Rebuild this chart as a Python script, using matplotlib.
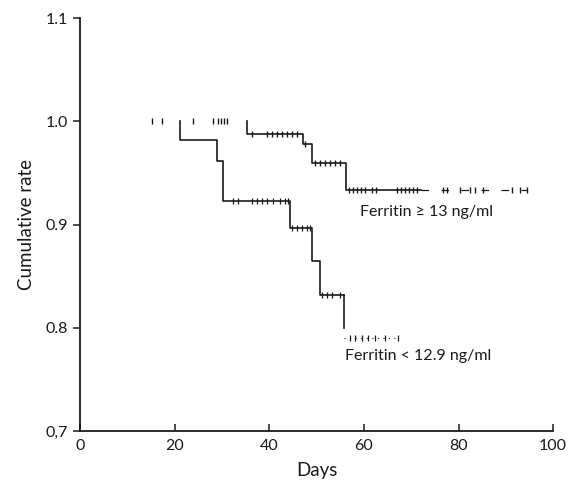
import numpy as np
import matplotlib
matplotlib.use("Agg")
import matplotlib.pyplot as plt

plt.rcParams['font.family'] = ['Lato', 'DejaVu Sans']

# High ferritin group (>= 13 ng/ml): event times and survival after each step
hi_times = [35.3, 47.1, 49.0, 56.2]
hi_surv = [0.988, 0.978, 0.960, 0.934]
hi_end = 94.5
hi_censor = [15.2, 17.3, 23.9, 28.1, 29.2, 29.8, 30.4, 31.1,
             36.4, 39.5, 40.6, 41.6, 42.7, 43.8, 44.8, 45.9,
             47.6,
             49.7, 50.7, 51.8, 52.8, 53.9, 55.0,
             56.9, 57.7, 58.6, 59.4, 60.3, 61.7, 62.6,
             67.0, 67.9, 68.7, 69.6, 70.4, 71.2,
             76.7, 77.6, 80.3, 82.5, 83.5, 85.2, 91.3, 93.0, 94.5]

# Low ferritin group (< 12.9 ng/ml)
lo_times = [21.1, 29.0, 30.3, 44.4, 49.0, 50.7, 55.8]
lo_surv = [0.982, 0.962, 0.923, 0.897, 0.865, 0.832, 0.790]
lo_end = 67.5
lo_censor = [32.3, 33.4, 36.4, 37.4, 38.5, 39.5, 40.8, 42.3, 43.3, 44.0,
             44.8, 45.9, 46.9, 48.0, 48.6,
             51.2, 52.2, 53.3, 54.9,
             57.1, 58.1, 59.6, 60.9, 62.4, 64.5, 67.2]

x_ticks = [0, 20, 40, 60, 80, 100]
y_ticks = [0.7, 0.8, 0.9, 1.0, 1.1]
y_labels = ['0,7', '0.8', '0.9', '1.0', '1.1']

label_hi = "Ferritin \u2265 13 ng/ml"
label_lo = "Ferritin < 12.9 ng/ml"


def surv_at(t, times, surv):
    idx = np.searchsorted(times, t, side='right')
    vals = np.concatenate([[1.0], surv])
    return vals[idx]


fig = plt.figure(figsize=(5.75, 4.91), dpi=100)
ax = fig.add_axes([0.139, 0.122, 0.823, 0.841])

lw = 1.2
col = '#1a1a1a'

# high group
xs = [hi_times[0]] + hi_times + [72.0]
ys = [1.0] + hi_surv + [hi_surv[-1]]
ax.step(xs, ys, where='post', color=col, lw=lw)
ax.plot([72.0, hi_end], [hi_surv[-1], hi_surv[-1]], color=col, lw=0.9,
        ls=(0, (6, 10)))
hc = np.array(hi_censor)
ax.plot(hc, surv_at(hc, hi_times, hi_surv), ls='none', marker='|',
        ms=5, mew=1.0, color=col)

# low group
xs = [lo_times[0]] + lo_times[:-1]
ys = [1.0] + lo_surv[:-1]
xs2 = xs + [lo_times[-1]]
ys2 = ys + [lo_surv[-2]]
ax.step(xs2, ys2, where='post', color=col, lw=lw)
ax.plot([lo_times[-1], lo_times[-1]], [lo_surv[-2], 0.80], color=col, lw=lw)
ax.plot([lo_times[-1], lo_end], [lo_surv[-1], lo_surv[-1]], color=col,
        lw=0.8, ls=(0, (1, 4)))
lc = np.array(lo_censor)
ax.plot(lc, surv_at(lc, lo_times, lo_surv), ls='none', marker='|',
        ms=4, mew=0.9, color=col)

ax.text(59.2, 0.9126, label_hi, fontsize=11.5, color=col, va='center')
ax.text(56.0, 0.7727, label_lo, fontsize=11.5, color=col, va='center')

ax.set_xlim(0, 100)
ax.set_ylim(0.7, 1.1)
ax.set_xticks(x_ticks)
ax.set_yticks(y_ticks)
ax.set_yticklabels(y_labels)
ax.spines['top'].set_visible(False)
ax.spines['right'].set_visible(False)
for s in ['left', 'bottom']:
    ax.spines[s].set_linewidth(1.3)
    ax.spines[s].set_color(col)
ax.tick_params(axis='x', direction='in', length=5, width=1.1, labelsize=11.5,
               pad=6, colors=col)
ax.tick_params(axis='y', direction='out', length=5, width=1.1, labelsize=11.5,
               colors=col)
ax.set_xlabel('Days', fontsize=13.5, labelpad=6, color=col)
ax.set_ylabel('Cumulative rate', fontsize=13.5, labelpad=8, color=col)

fig.savefig('out.png', dpi=100)
